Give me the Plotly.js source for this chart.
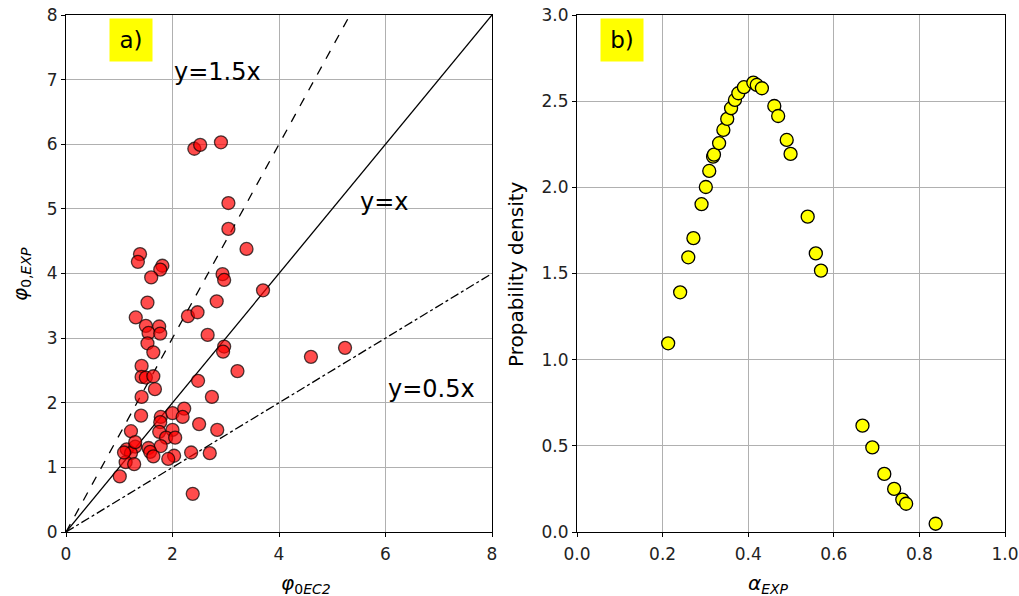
<!DOCTYPE html>
<html><head><meta charset="utf-8">
<script src="https://cdn.plot.ly/plotly-3.0.1.min.js"></script>
<style>html,body{margin:0;padding:0;background:#fff}#chart{width:1019px;height:596px}</style>
</head><body><div id="chart"></div>
<script>
// Panel a) scatter
const phiEC2 = [2.41,2.52,2.91,3.05,3.05,3.39,1.39,1.35,1.81,1.77,1.60,2.94,2.97,3.70,1.53,2.83,1.31,2.29,2.47,
  1.50,1.75,1.55,1.77,1.53,1.64,2.66,2.97,2.95,3.22,1.42,1.42,1.50,1.64,1.67,1.42,2.48,2.74,1.41,1.78,1.77,
  2.00,2.22,2.19,2.50,2.84,1.22,1.75,2.00,1.88,2.05,1.78,1.14,1.30,1.22,1.55,1.58,1.64,2.03,1.92,2.35,2.70,
  1.12,1.28,1.01,2.38,1.09,4.60,5.24,1.30];
const phiEXP = [5.93,5.99,6.03,5.09,4.69,4.38,4.30,4.18,4.12,4.06,3.94,3.99,3.90,3.74,3.55,3.57,3.32,3.34,3.40,
  3.19,3.18,3.08,3.07,2.92,2.78,3.05,2.87,2.79,2.49,2.57,2.40,2.39,2.41,2.21,2.09,2.34,2.09,1.80,1.78,1.70,
  1.84,1.91,1.78,1.67,1.58,1.56,1.55,1.58,1.46,1.46,1.33,1.28,1.32,1.22,1.30,1.24,1.17,1.18,1.13,1.23,1.22,
  1.08,1.05,0.86,0.59,1.23,2.71,2.85,1.39];
// Reference lines
const lineX = [0, 8];
const slopes = [1.5, 1.0, 0.5];
const lineLabels = ['y=1.5x', 'y=x', 'y=0.5x'];
// Panel b) probability density
const alphaEXP = [0.213,0.241,0.260,0.272,0.291,0.301,0.309,0.318,0.320,0.332,0.342,0.351,0.360,0.369,0.377,0.390,0.412,0.420,0.432,
  0.461,0.470,0.490,0.499,0.539,0.558,0.570,0.667,0.690,0.718,0.741,0.760,0.769,0.838];
const density = [1.095,1.391,1.594,1.705,1.902,2.002,2.095,2.178,2.190,2.256,2.333,2.397,2.459,2.507,2.546,2.581,2.608,2.594,2.575,
  2.472,2.414,2.275,2.194,1.830,1.617,1.517,0.617,0.491,0.337,0.250,0.188,0.164,0.048];

const W = 1019, H = 596;
const dx1 = [66/W, 492/W], dx2 = [577/W, 1005/W], dy = [1-532/H, 1-15/H];
const tickFont = {family: 'DejaVu Sans, sans-serif', size: 17, color: '#222'};
const titleFont = {family: 'DejaVu Sans, sans-serif', size: 20, color: '#000'};
const noteFont = {family: 'DejaVu Sans, sans-serif', size: 24, color: '#000'};

const traces = [
  {x: lineX, y: lineX.map(v => v*slopes[0]), mode: 'lines', line: {color: '#000', width: 1.3, dash: 'dash'}, xaxis: 'x', yaxis: 'y', hoverinfo: 'skip'},
  {x: lineX, y: lineX.map(v => v*slopes[1]), mode: 'lines', line: {color: '#000', width: 1.3}, xaxis: 'x', yaxis: 'y', hoverinfo: 'skip'},
  {x: lineX, y: lineX.map(v => v*slopes[2]), mode: 'lines', line: {color: '#000', width: 1.3, dash: 'dashdot'}, xaxis: 'x', yaxis: 'y', hoverinfo: 'skip'},
  {x: phiEC2, y: phiEXP, mode: 'markers', type: 'scatter', xaxis: 'x', yaxis: 'y',
   marker: {size: 13, color: 'rgba(255,0,0,0.7)', line: {color: 'rgba(0,0,0,0.7)', width: 1.3}}},
  {x: alphaEXP, y: density, mode: 'markers', type: 'scatter', xaxis: 'x2', yaxis: 'y2',
   marker: {size: 13, color: '#ffff00', line: {color: '#000', width: 1.3}}}
];

const axBase = {showline: true, linecolor: '#000', linewidth: 1, mirror: true, ticks: 'outside', ticklen: 4, tickcolor: '#000',
  showgrid: true, gridcolor: '#b0b0b0', gridwidth: 1, zeroline: false, tickfont: tickFont, automargin: false};

const layout = {
  width: W, height: H, showlegend: false, paper_bgcolor: '#fff', plot_bgcolor: '#fff',
  margin: {l: 0, r: 0, t: 0, b: 0},
  font: tickFont,
  xaxis: Object.assign({}, axBase, {domain: dx1, range: [0, 8], dtick: 2, anchor: 'y', ticklabelstandoff: 3}),
  yaxis: Object.assign({}, axBase, {domain: dy, range: [0, 8], dtick: 1, anchor: 'x'}),
  xaxis2: Object.assign({}, axBase, {domain: dx2, range: [0, 1], dtick: 0.2, tickformat: '.1f', anchor: 'y2', ticklabelstandoff: 3}),
  yaxis2: Object.assign({}, axBase, {domain: dy, range: [0, 3], dtick: 0.5, tickformat: '.1f', anchor: 'x2'}),
  annotations: [
    // axis titles
    {xref: 'paper', yref: 'paper', x: 279/W, y: 1-584/H, yanchor: 'middle', text: '<i>φ</i><sub>0<i>EC2</i></sub>', showarrow: false, font: titleFont},
    {xref: 'paper', yref: 'paper', x: 791/W, y: 1-584/H, yanchor: 'middle', text: '<i>α</i><sub><i>EXP</i></sub>', showarrow: false, font: titleFont},
    {xref: 'paper', yref: 'paper', x: 6/W, y: 1-274/H, xanchor: 'left', text: '<i>φ</i><sub>0,<i>EXP</i></sub>', showarrow: false, textangle: -90, font: titleFont},
    {xref: 'paper', yref: 'paper', x: 516/W, y: 1-274/H, text: 'Propability density', showarrow: false, textangle: -90, font: titleFont},
    // panel labels
    {xref: 'x', yref: 'y', x: 1.22, y: 7.62, text: 'a)', showarrow: false, bgcolor: '#ffff00', width: 40, height: 40,
     font: {family: 'DejaVu Sans, sans-serif', size: 23, color: '#000'}},
    {xref: 'x2', yref: 'y2', x: 0.105, y: 2.855, text: 'b)', showarrow: false, bgcolor: '#ffff00', width: 40, height: 40,
     font: {family: 'DejaVu Sans, sans-serif', size: 23, color: '#000'}},
    // line labels
    {xref: 'x', yref: 'y', x: 2.85, y: 7.12, text: lineLabels[0], showarrow: false, font: noteFont},
    {xref: 'x', yref: 'y', x: 5.99, y: 5.1, text: lineLabels[1], showarrow: false, font: noteFont},
    {xref: 'x', yref: 'y', x: 6.87, y: 2.22, text: lineLabels[2], showarrow: false, font: noteFont}
  ]
};

Plotly.newPlot('chart', traces, layout, {staticPlot: true, displayModeBar: false});
</script>
</body></html>
